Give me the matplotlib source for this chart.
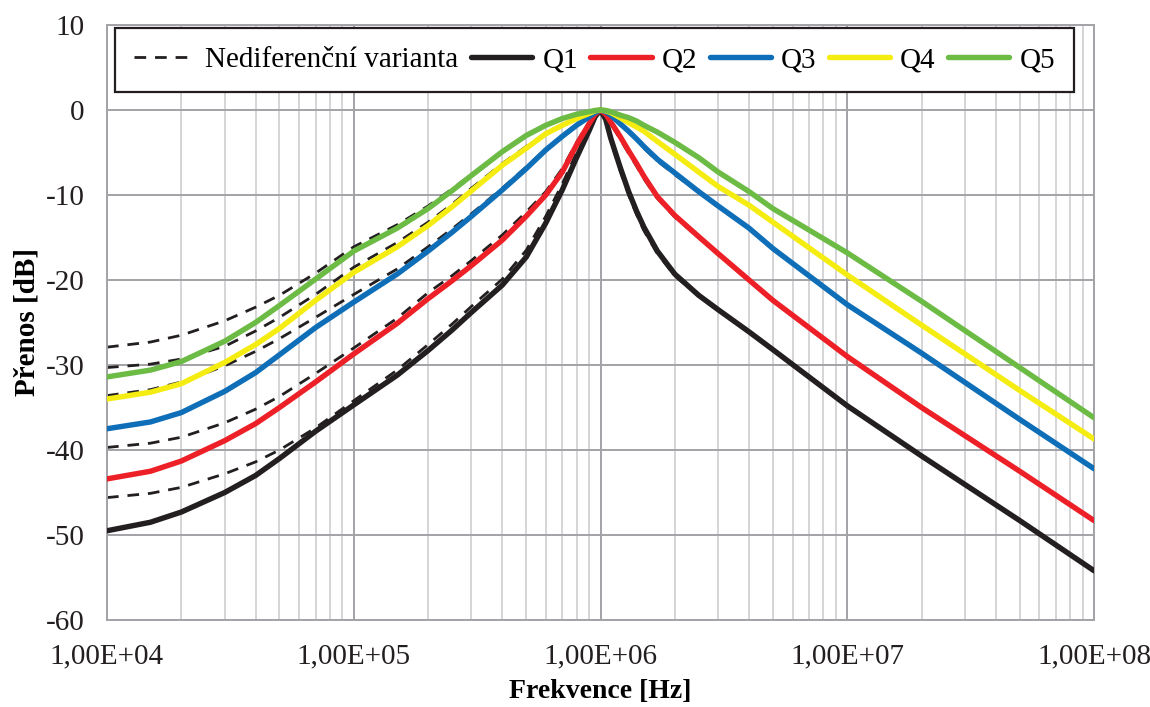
import matplotlib
matplotlib.use("Agg")
import matplotlib.pyplot as plt
from matplotlib.ticker import FixedLocator, LogLocator, NullFormatter, FuncFormatter

# ---------------- data ----------------
freq = [1e4, 1.5e4, 2e4, 3e4, 4e4, 5e4, 7e4, 1e5, 1.5e5, 2e5, 2.5e5, 3e5, 4e5, 5e5,
        6e5, 7e5, 8e5, 9e5, 9.5e5, 1e6, 1.05e6, 1.1e6, 1.2e6, 1.3e6, 1.4e6, 1.5e6,
        1.7e6, 2e6, 2.5e6, 3e6, 4e6, 5e6, 1e7, 2e7, 5e7, 1e8]

q1 = [-49.5, -48.5, -47.3, -45.0, -43.0, -41.0, -37.8, -34.7, -31.2, -28.3, -25.9, -23.8, -20.6, -17.3,
      -13.3, -9.4, -5.6, -2.4, -0.8, 0.0, -1.1, -3.3, -6.7, -9.6, -11.9, -13.8,
      -16.6, -19.3, -21.8, -23.5, -26.1, -28.2, -34.8, -40.7, -48.3, -54.2]
q2 = [-43.4, -42.5, -41.3, -38.9, -36.9, -35.0, -32.0, -28.7, -25.1, -22.2, -20.1, -18.3, -15.3, -12.5,
      -10.0, -7.3, -4.1, -1.6, -0.5, 0.0, -0.5, -1.4, -3.1, -4.8, -6.3, -7.8,
      -10.2, -12.4, -14.9, -16.9, -20.0, -22.4, -29.0, -35.0, -42.5, -48.3]
q3 = [-37.5, -36.7, -35.6, -33.1, -30.9, -28.8, -25.6, -22.6, -19.3, -16.6, -14.4, -12.5, -9.4, -6.9,
      -4.7, -3.1, -1.8, -0.8, -0.3, 0.0, -0.2, -0.6, -1.6, -2.5, -3.4, -4.3,
      -5.8, -7.4, -9.6, -11.3, -13.9, -16.3, -22.9, -28.6, -36.4, -42.2]
q4 = [-34.0, -33.2, -32.2, -29.7, -27.6, -25.7, -22.4, -19.1, -16.1, -13.6, -11.4, -9.5, -6.5, -4.5,
      -2.8, -1.8, -1.0, -0.4, -0.1, 0.0, -0.1, -0.3, -0.9, -1.5, -2.0, -2.5,
      -3.7, -5.2, -7.3, -9.0, -11.2, -13.2, -19.4, -25.3, -33.0, -38.7]
q5 = [-31.4, -30.6, -29.6, -27.2, -25.0, -23.0, -19.9, -16.6, -13.9, -11.6, -9.5, -7.7, -4.9, -3.0,
      -1.8, -1.0, -0.5, -0.2, -0.05, 0.0, -0.05, -0.2, -0.6, -0.9, -1.3, -1.8,
      -2.6, -3.8, -5.6, -7.3, -9.6, -11.6, -16.8, -22.5, -30.3, -36.2]

# non-differential variant (dashed), one per Q
d1 = [-45.6, -45.1, -44.4, -42.8, -41.4, -40.0, -37.4, -34.2, -30.6, -27.6, -25.2, -23.1, -19.9, -16.5,
      -12.5, -8.7, -5.0, -2.1, -0.6, 0.0, -1.3, -3.6, -7.1, -10.0, -12.3, -14.2,
      -16.9, -19.5, -21.9, -23.6, -26.1, -28.2, -34.8, -40.7, -48.3, -54.2]
d2 = [-39.7, -39.2, -38.5, -36.8, -35.2, -33.7, -31.0, -28.0, -24.5, -21.5, -19.5, -17.7, -14.7, -12.0,
      -9.6, -6.9, -3.8, -1.4, -0.4, 0.0, -0.6, -1.6, -3.4, -5.1, -6.6, -8.1,
      -10.4, -12.6, -15.0, -17.0, -20.0, -22.4, -29.0, -35.0, -42.5, -48.3]
d3 = [-33.6, -32.9, -32.0, -30.1, -28.4, -26.9, -24.4, -21.7, -18.7, -16.1, -14.0, -12.2, -9.2, -6.7,
      -4.6, -3.0, -1.7, -0.7, -0.2, 0.0, -0.2, -0.7, -1.7, -2.6, -3.5, -4.5,
      -6.0, -7.6, -9.7, -11.4, -13.9, -16.3, -22.9, -28.6, -36.4, -42.2]
d4 = [-30.3, -29.9, -29.3, -27.8, -26.0, -24.4, -21.7, -18.5, -15.6, -13.2, -11.1, -9.2, -6.3, -4.3,
      -2.7, -1.7, -0.9, -0.4, -0.1, 0.0, -0.1, -0.3, -0.9, -1.5, -2.0, -2.5,
      -3.7, -5.2, -7.3, -9.0, -11.2, -13.2, -19.4, -25.3, -33.0, -38.7]
d5 = [-27.9, -27.3, -26.5, -24.8, -23.2, -21.8, -19.2, -16.1, -13.5, -11.3, -9.3, -7.6, -4.8, -2.9,
      -1.7, -1.0, -0.5, -0.2, -0.05, 0.0, -0.05, -0.2, -0.6, -0.9, -1.3, -1.8,
      -2.6, -3.8, -5.6, -7.3, -9.6, -11.6, -16.8, -22.5, -30.3, -36.2]

series_names = ["Q1", "Q2", "Q3", "Q4", "Q5"]
dashed_name = "Nediferenční varianta"
x_ticks = [1e4, 1e5, 1e6, 1e7, 1e8]
x_tick_labels = ["1,00E+04", "1,00E+05", "1,00E+06", "1,00E+07", "1,00E+08"]
y_ticks = [-60, -50, -40, -30, -20, -10, 0, 10]
x_label = "Frekvence [Hz]"
y_label = "Přenos [dB]"

# ---------------- styling ----------------
colors = ["#231F20", "#EE2027", "#0E6EB8", "#F5EC12", "#6CBB45"]
plt.rcParams["font.family"] = ["Liberation Serif", "DejaVu Serif"]

fig = plt.figure(figsize=(11.5, 7.07), dpi=100)
ax = fig.add_axes([107 / 1150, 1 - 620 / 707, (1094 - 107) / 1150, (620 - 25) / 707])

ax.set_xscale("log")
ax.set_xlim(1e4, 1e8)
ax.set_ylim(-60, 10)

# grid
ax.grid(True, which="major", color="#A3A3A7", linewidth=1.4, zorder=0)
ax.grid(True, which="minor", axis="x", color="#CACACE", linewidth=1.1, zorder=0)
ax.set_axisbelow(True)

# dashed curves first (underneath)
dashed = [d1, d2, d3, d4, d5]
for i, d in enumerate(dashed):
    ax.plot(freq, d, color="#231F20", linestyle=(0, (4.2, 3.2)), linewidth=2.0,
            zorder=2, label=dashed_name if i == 0 else None)

solid = [q1, q2, q3, q4, q5]
for name, vals, c in zip(series_names, solid, colors):
    ax.plot(freq, vals, color=c, linewidth=3.9, solid_capstyle="round",
            solid_joinstyle="round", zorder=3, label=name)

ax.xaxis.set_major_locator(FixedLocator(x_ticks))
ax.set_xticklabels(x_tick_labels)
ax.xaxis.set_minor_locator(LogLocator(base=10, subs=range(2, 10), numticks=20))
ax.xaxis.set_minor_formatter(NullFormatter())
ax.set_yticks(y_ticks)
ax.yaxis.set_major_formatter(FuncFormatter(lambda v, p: f"{int(v)}"))

ax.tick_params(axis="both", which="both", length=0, labelsize=21, colors="#231F20")
ax.tick_params(axis="x", pad=17)
ax.tick_params(axis="y", pad=16)

for s in ax.spines.values():
    s.set_color("#A3A3A7")
    s.set_linewidth(1.4)

ax.set_xlabel(x_label, fontsize=20, fontweight="bold", labelpad=7)
ax.set_ylabel(y_label, fontsize=21, fontweight="bold", labelpad=4)

leg = ax.legend(loc="upper center", bbox_to_anchor=(0.494, 0.995),
                ncol=6, fontsize=21, frameon=True, fancybox=False,
                handlelength=2.1, handletextpad=0.35, borderpad=0.65, columnspacing=0.42,
                borderaxespad=0.0)
leg.get_frame().set_edgecolor("#231F20")
leg.get_frame().set_linewidth(1.6)
leg.get_frame().set_alpha(1)

fig.savefig("out.png", dpi=100)
